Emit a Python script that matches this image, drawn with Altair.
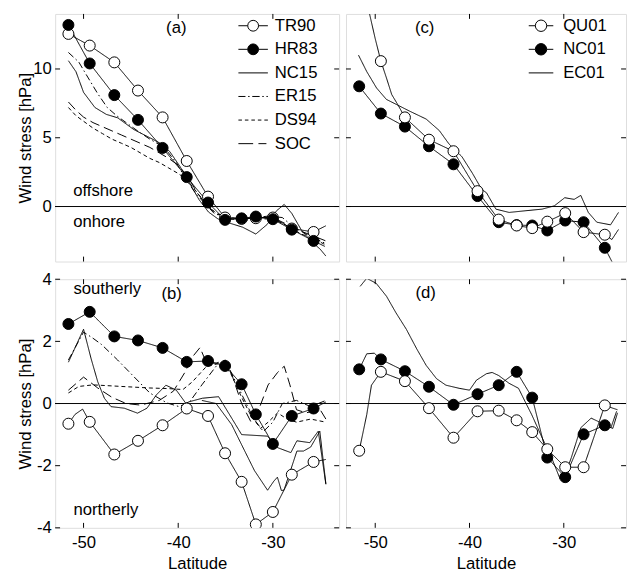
import altair as alt
import pandas as pd

FONT = "Liberation Sans"
FS = 17

# ---------------- data ----------------
X_TICKS = [-50, -40, -30]
Y_TICKS_TOP = [0, 5, 10]
Y_TICKS_BOT = [-4, -2, 0, 2, 4]

LAT_AB = [-51.6, -49.35, -46.75, -44.25, -41.65, -39.1, -36.85, -35.05, -33.3, -31.8, -30.0, -28.0, -25.7]
LAT_CD = [-51.7, -49.4, -46.85, -44.3, -41.7, -39.15, -36.9, -35.0, -33.35, -31.75, -29.85, -27.9, -25.65]

# panel (a)
TR90_A = [12.55, 11.7, 10.48, 8.43, 6.48, 3.31, 0.72, -0.8, -0.9, -0.85, -0.8, -1.6, -1.85]
HR83_A = [13.2, 10.4, 8.1, 6.3, 4.26, 2.14, 0.29, -0.97, -0.86, -0.73, -0.92, -1.68, -2.5]
TR90_A_LINE_LAT = LAT_AB + [-24.4]
TR90_A_LINE = TR90_A + [-1.4]
HR83_A_LINE_LAT = LAT_AB + [-24.5]
HR83_A_LINE = HR83_A + [-2.9]
NC15_A_LAT = [-51.6, -50.8, -50.0, -48.8, -47.6, -46.4, -44.7, -43.0, -41.9, -40.9, -39.8, -38.8, -37.8,
              -36.8, -35.8, -34.6, -33.2, -31.8, -30.6, -29.6, -28.8, -28.0, -27.0, -26.0, -25.0, -24.4]
NC15_A = [10.6, 9.8, 8.3, 7.2, 6.7, 6.45, 5.6, 5.0, 4.6, 4.0, 2.9, 1.7, 0.5,
          -0.4, -0.9, -1.2, -1.5, -2.0, -1.3, -0.3, 0.15, -0.5, -1.7, -2.5, -3.1, -3.6]
ER15_A_LAT = [-51.6, -50.5, -49.9, -48.5, -47.5, -46.5, -45.5, -44.3, -43.0, -41.5, -40.2, -39.2, -38.2,
              -37.3, -36.2, -35.0, -33.5, -32.0, -30.5, -29.0, -27.8, -26.5, -25.3, -24.4]
ER15_A = [11.2, 10.5, 9.8, 8.2, 7.2, 6.6, 6.1, 5.5, 4.9, 4.3, 3.2, 2.0, 1.0,
          0.3, -0.5, -0.8, -0.9, -0.8, -0.7, -0.8, -1.5, -2.0, -2.4, -2.7]
SOC_A_LAT = [-51.6, -50.8, -50.0, -49.0, -48.0, -47.0, -46.0, -45.0, -44.0, -43.0, -42.0, -41.0, -40.0,
             -39.0, -38.0, -37.0, -36.0, -34.5, -33.0, -31.5, -30.0, -28.5, -27.0, -25.5, -24.4]
SOC_A = [7.6, 7.0, 6.5, 6.1, 5.8, 5.5, 5.2, 4.9, 4.6, 4.3, 3.9, 3.5, 3.0,
         2.2, 1.0, 0.1, -0.5, -0.8, -0.9, -0.8, -0.8, -1.3, -1.8, -2.2, -2.5]
DS94_A_LAT = [-51.6, -50.8, -50.0, -49.0, -48.0, -47.0, -46.0, -45.0, -44.0, -43.0, -42.0, -41.0, -40.0,
              -39.0, -38.0, -37.0, -36.0, -34.5, -33.0, -31.5, -30.0, -28.5, -27.0, -25.5, -24.4]
DS94_A = [7.2, 6.6, 6.2, 5.7, 5.3, 4.9, 4.6, 4.3, 3.9, 3.5, 3.2, 2.8, 2.4,
          1.9, 1.0, 0.2, -0.5, -0.9, -1.0, -0.9, -0.9, -1.4, -2.0, -2.4, -2.8]

# panel (b)
TR90_B = [-0.65, -0.59, -1.64, -1.20, -0.70, -0.16, -0.40, -1.60, -2.52, -3.89, -3.49, -2.29, -1.88]
HR83_B = [2.56, 2.95, 2.16, 2.03, 1.79, 1.34, 1.37, 1.21, 0.62, -0.35, -1.30, -0.40, -0.16]
TR90_B_LINE_LAT = [-51.6, -50.9, -50.1, -49.35, -46.75, -44.25, -41.65, -39.1, -36.85, -35.05, -33.3,
                   -31.8, -30.0, -28.0, -25.7, -24.4]
TR90_B_LINE = [-0.65, -0.35, -0.18, -0.59, -1.64, -1.20, -0.70, -0.16, -0.40, -1.60, -2.52,
               -3.89, -3.49, -2.29, -1.88, -1.8]
HR83_B_LINE_LAT = LAT_AB + [-24.4]
HR83_B_LINE = HR83_B + [0.05]
NC15_B_LAT = [-51.6, -50.0, -49.2, -48.5, -47.8, -47.1, -45.7, -44.3, -43.3, -42.3, -41.3, -40.2, -39.2,
              -38.8, -37.45, -35.73, -34.35, -33.3, -30.56, -29.5, -28.1, -27.46, -26.1, -25.2, -24.4]
NC15_B = [1.33, 2.39, 1.44, 0.70, 0.17, -0.10, -0.15, -0.31, -0.15, 0.28, 0.59, 0.43, 0.01,
          0.06, 0.17, 0.22, -0.47, -1.0, -1.05, -1.42, -1.58, -1.2, -1.26, -0.89, -2.6]
EXTRA_B_LAT = [-37.5, -36.0, -34.35, -32.97, -31.94, -30.56, -29.9, -29.52, -29.1, -28.83, -28.14,
               -27.46, -26.77, -26.0, -25.04, -24.4]
EXTRA_B = [0.1, 0.0, -0.68, -1.53, -2.16, -2.79, -2.5, -2.37, -2.8, -2.79, -2.16,
           -1.53, -1.53, -1.4, -0.89, -2.58]
ER15_B_LAT = [-51.6, -50.0, -49.0, -48.1, -46.4, -44.7, -43.0, -41.2, -39.9, -38.8, -37.5, -36.0, -34.8,
              -33.3, -32.0, -31.0, -30.0, -29.0, -27.5, -26.0, -24.4]
ER15_B = [1.4, 2.3, 2.1, 1.9, 1.4, 0.87, 0.34, 0.02, -0.1, 0.05, 0.6, 1.2, 1.25,
          0.3, -0.5, -0.9, -0.6, 0.0, 0.1, -0.1, 0.1]
DS94_B_LAT = [-51.6, -50.5, -49.0, -46.0, -43.0, -41.0, -39.5, -38.5, -37.0, -35.5, -34.5, -33.3, -32.3,
              -31.3, -30.5, -29.5, -28.5, -27.5, -26.0, -24.4]
DS94_B = [0.34, 0.55, 0.6, 0.55, 0.5, 0.48, 0.45, 0.7, 1.2, 1.3, 1.0, 0.2, -0.4,
          -0.8, -0.6, -0.3, -0.5, -0.6, -0.5, -0.6]
SOC_B_LAT = [-51.6, -50.0, -48.5, -47.0, -45.5, -44.0, -42.0, -40.5, -39.3, -38.5, -37.7, -37.0, -36.0,
             -35.0, -34.3, -33.3, -32.3, -31.5, -30.5, -29.5, -28.8, -28.2, -27.5, -26.5, -25.0, -24.4]
SOC_B = [0.43, 0.85, 0.5, 0.2, 0.0, -0.05, 0.1, 0.4, 1.0, 1.5, 1.8, 1.3, 1.3,
         1.4, 0.9, 0.0, -0.6, -0.2, 0.6, 1.0, 1.2, 0.6, -0.2, -0.3, -0.2, -0.5]

# panel (c)
QU01_C_LAT = LAT_CD[1:]
QU01_C = [10.57, 6.48, 4.86, 4.02, 1.12, -0.95, -1.38, -1.57, -1.1, -0.48, -1.86, -2.05]
QU01_C_LINE_LAT = [-51.1, -50.6, -50.0, -49.4, -48.8, -48.25, -47.6, -46.85, -44.3, -41.7, -39.15, -36.9,
                   -35.0, -33.35, -31.75, -29.85, -27.9, -25.65, -24.9, -24.2]
QU01_C_LINE = [17.0, 14.0, 12.2, 10.57, 9.33, 8.14, 7.4, 6.48, 4.86, 4.02, 1.12, -0.95,
               -1.38, -1.57, -1.1, -0.48, -1.86, -2.05, -2.4, -1.67]
NC01_C = [8.74, 6.76, 5.81, 4.38, 3.07, 0.76, -1.14, -1.35, -1.38, -1.74, -1.02, -1.14, -3.0]
NC01_C_LINE_LAT = LAT_CD + [-24.6]
NC01_C_LINE = NC01_C + [-4.4]
EC01_C_LAT = [-51.77, -50.9, -49.86, -48.82, -47.78, -46.4, -44.6, -43.2, -42.2, -40.8, -39.7, -38.7, -38.2,
              -37.2, -35.8, -34.1, -32.3, -31.0, -29.9, -28.9, -28.2, -27.4, -26.5, -25.04, -24.2]
EC01_C = [11.0, 9.81, 8.62, 7.79, 7.43, 6.95, 6.36, 5.52, 4.57, 3.62, 2.43, 1.24, 1.0,
          -0.19, -0.43, -0.31, -0.19, 0.05, 0.64, 0.52, 0.81, -0.43, -1.14, -1.33, -0.43]

# panel (d)
NC01_D = [1.10, 1.42, 1.04, 0.54, -0.04, 0.30, 0.59, 1.02, 0.19, -1.74, -2.37, -0.99, -0.70]
QU01_D = [-1.52, 1.02, 0.72, -0.15, -1.10, -0.25, -0.23, -0.54, -0.92, -1.47, -2.05, -2.05, -0.06]
NC01_D_LINE_LAT = [-51.7, -50.9, -50.1] + LAT_CD[1:] + [-24.8, -24.3]
NC01_D_LINE = [1.10, 1.6, 1.62] + NC01_D[1:] + [-0.8, -0.3]
QU01_D_LINE_LAT = [-51.7, -50.9, -50.4] + LAT_CD[1:] + [-24.8, -24.3]
QU01_D_LINE = [-1.52, -0.36, 0.59] + QU01_D[1:] + [-0.15, -0.2]
EC01_D_LAT = [-51.6, -50.9, -49.9, -48.8, -47.8, -46.7, -45.6, -44.6, -43.5, -42.5, -41.1, -40.0, -39.27,
              -38.2, -37.6, -36.9, -35.8, -34.8, -34.1, -33.4, -32.3, -31.3, -30.4, -29.7, -29.2, -28.2,
              -27.1, -26.4, -25.0, -24.4]
EC01_D = [3.77, 4.03, 3.87, 3.45, 2.92, 2.39, 1.76, 1.23, 0.80, 0.59, 0.49, 0.43, 0.75,
          0.96, 1.0, 0.9, 0.65, 0.49, 0.06, -0.36, -1.1, -1.74, -2.42, -2.16, -1.74, -0.78,
          -0.47, -0.57, -0.78, -0.25]

LEGEND_A = ["TR90", "HR83", "NC15", "ER15", "DS94", "SOC"]
LEGEND_C = ["QU01", "NC01", "EC01"]

# ---------------- styles ----------------
DASH = {"solid": [1, 0], "dashdot": [7, 3, 1.5, 3], "short": [4, 3], "long": [10, 5]}
STYLE_DOMAIN = ["solid", "dashdot", "short", "long"]
STYLE_RANGE = [DASH[s] for s in STYLE_DOMAIN]


def circle_path(r, h):
    k = round(0.5523 * r, 4)
    return (f"M{-h},0L{-r},0M{r},0L{h},0"
            f"M{r},0C{r},{k} {k},{r} 0,{r}C{-k},{r} {-r},{k} {-r},0"
            f"C{-r},{-k} {-k},{-r} 0,{-r}C{k},{-r} {r},{-k} {r},0Z")


def dash_path(h, segs):
    return "".join(f"M{round(-h + 2 * h * a, 3)},0L{round(-h + 2 * h * b, 3)},0" for a, b in segs)


SEG_SOLID = [(0, 1)]
SEG_DASHDOT = [(0, 0.24), (0.33, 0.38), (0.47, 0.72), (0.81, 0.86), (0.95, 1)]
SEG_SHORT = [(0, 0.12), (0.22, 0.34), (0.44, 0.56), (0.66, 0.78), (0.88, 1)]
SEG_LONG = [(0, 0.5), (0.68, 0.95)]


def xenc(field, show, domain):
    if show:
        axis = alt.Axis(values=X_TICKS, labelExpr="'' + datum.value", ticks=False, domain=False,
                        grid=False, labelFont=FONT, labelFontSize=FS, labelColor="black",
                        labelPadding=7, title="Latitude", titleFont=FONT, titleFontSize=FS,
                        titleFontWeight="normal", titleColor="black", titlePadding=5)
    else:
        axis = None
    return alt.X(f"{field}:Q", scale=alt.Scale(domain=domain, nice=False, zero=False), axis=axis)


def yenc(field, show, domain, ticks):
    if show:
        axis = alt.Axis(values=ticks, labelExpr="'' + datum.value", ticks=False, domain=False,
                        grid=False, labelFont=FONT, labelFontSize=FS, labelColor="black",
                        labelPadding=4, minExtent=20, maxExtent=20,
                        title="Wind stress [hPa]", titleFont=FONT, titleFontSize=FS,
                        titleFontWeight="normal", titleColor="black", titlePadding=1)
    else:
        axis = None
    return alt.Y(f"{field}:Q", scale=alt.Scale(domain=domain, nice=False, zero=False), axis=axis)


def panel(W, H, xdom, ydom, yticks, show_x, show_y, lines, markers, texts, legend):
    X = lambda f: xenc(f, show_x, xdom)
    Y = lambda f: yenc(f, show_y, ydom, yticks)
    layers = []
    layers.append(alt.Chart(pd.DataFrame({"z": [0]})).mark_rule(color="black", strokeWidth=1)
                  .encode(y=Y("z")))
    rows = []
    for name, style, lats, vals in lines:
        for la, v in zip(lats, vals):
            rows.append({"series": name, "style": style, "lat": la, "val": v})
    ldf = pd.DataFrame(rows)
    layers.append(alt.Chart(ldf).mark_line(color="black", strokeWidth=1, clip=True).encode(
        x=X("lat"), y=Y("val"),
        detail="series:N",
        strokeDash=alt.StrokeDash("style:N", scale=alt.Scale(domain=STYLE_DOMAIN, range=STYLE_RANGE),
                                  legend=None)))
    for name, fill, lats, vals in markers:
        mdf = pd.DataFrame({"lat": lats, "val": vals})
        layers.append(alt.Chart(mdf).mark_point(shape="circle", filled=True, fill=fill, stroke="black",
                                                strokeWidth=1, size=125, opacity=1, clip=True)
                      .encode(x=X("lat"), y=Y("val")))
    for txt, la, v, align in texts:
        tdf = pd.DataFrame({"lat": [la], "val": [v], "t": [txt]})
        layers.append(alt.Chart(tdf).mark_text(align=align, baseline="middle", font=FONT, fontSize=FS,
                                               color="black")
                      .encode(x=X("lat"), y=Y("val"), text="t:N"))
    tx = pd.DataFrame({"t": X_TICKS})
    ty = pd.DataFrame({"t": yticks})
    layers.append(alt.Chart(tx).mark_rule(color="black", strokeWidth=1)
                  .encode(x=X("t"), y=alt.value(0), y2=alt.value(5)))
    layers.append(alt.Chart(tx).mark_rule(color="black", strokeWidth=1)
                  .encode(x=X("t"), y=alt.value(H - 5), y2=alt.value(H)))
    layers.append(alt.Chart(ty).mark_rule(color="black", strokeWidth=1)
                  .encode(y=Y("t"), x=alt.value(0), x2=alt.value(5)))
    layers.append(alt.Chart(ty).mark_rule(color="black", strokeWidth=1)
                  .encode(y=Y("t"), x=alt.value(W - 5), x2=alt.value(W)))
    if legend is not None:
        names, paths, fills, lx, ly, loff = legend
        gdf = pd.DataFrame({"series": names, "lat": [-80.0] * len(names), "val": [0.0] * len(names)})
        leg = alt.Legend(orient="none", legendX=lx, legendY=ly, title=None, labelFont=FONT,
                         labelFontSize=FS, labelColor="black", symbolSize=400, symbolStrokeWidth=1,
                         labelOffset=loff, rowPadding=5, padding=0, symbolOpacity=1)
        layers.append(alt.Chart(gdf).mark_point(filled=True, size=400, opacity=1, clip=True).encode(
            x=X("lat"), y=Y("val"),
            shape=alt.Shape("series:N", scale=alt.Scale(domain=names, range=paths), legend=leg),
            fill=alt.Fill("series:N", scale=alt.Scale(domain=names, range=fills), legend=leg),
            stroke=alt.Stroke("series:N", scale=alt.Scale(domain=names, range=["black"] * len(names)),
                              legend=leg)))
    return alt.layer(*layers).properties(width=W, height=H)


XL = [-53.0, -23.0]
XR = [-53.1, -23.4]
WL, WR, HT, HB = 289, 285, 252, 253

pa = panel(WL, HT, XL, [-4, 14], Y_TICKS_TOP, False, True,
           [("NC15", "solid", NC15_A_LAT, NC15_A), ("ER15", "dashdot", ER15_A_LAT, ER15_A),
            ("SOC", "long", SOC_A_LAT, SOC_A), ("DS94", "short", DS94_A_LAT, DS94_A),
            ("TR90", "solid", TR90_A_LINE_LAT, TR90_A_LINE), ("HR83", "solid", HR83_A_LINE_LAT, HR83_A_LINE)],
           [("TR90", "white", LAT_AB, TR90_A), ("HR83", "black", LAT_AB, HR83_A)],
           [("(a)", -40.2, 12.96, "center"), ("offshore", -51.1, 1.12, "left"),
            ("onhore", -51.1, -1.14, "left")],
           (LEGEND_A, [circle_path(0.55, 1.5), circle_path(0.55, 1.5), dash_path(1.5, SEG_SOLID),
                       dash_path(1.5, SEG_DASHDOT), dash_path(1.5, SEG_SHORT), dash_path(1.5, SEG_LONG)],
            ["white", "black", "transparent", "transparent", "transparent", "transparent"], 191, 1.5, 11.5))

pb = panel(WL, HB, XL, [-4, 4], Y_TICKS_BOT, True, True,
           [("NC15", "solid", NC15_B_LAT, NC15_B), ("extra", "solid", EXTRA_B_LAT, EXTRA_B),
            ("ER15", "dashdot", ER15_B_LAT, ER15_B), ("SOC", "long", SOC_B_LAT, SOC_B),
            ("DS94", "short", DS94_B_LAT, DS94_B),
            ("TR90", "solid", TR90_B_LINE_LAT, TR90_B_LINE), ("HR83", "solid", HR83_B_LINE_LAT, HR83_B_LINE)],
           [("TR90", "white", LAT_AB, TR90_B), ("HR83", "black", LAT_AB, HR83_B)],
           [("(b)", -40.7, 3.51, "center"), ("southerly", -51.07, 3.67, "left"),
            ("northerly", -51.07, -3.42, "left")],
           None)

pc = panel(WR, HT, XR, [-4, 14], Y_TICKS_TOP, False, False,
           [("EC01", "solid", EC01_C_LAT, EC01_C), ("NC01", "solid", NC01_C_LINE_LAT, NC01_C_LINE),
            ("QU01", "solid", QU01_C_LINE_LAT, QU01_C_LINE)],
           [("NC01", "black", LAT_CD, NC01_C), ("QU01", "white", QU01_C_LAT, QU01_C)],
           [("(c)", -44.76, 13.0, "center")],
           (LEGEND_C, [circle_path(0.58, 1.25), circle_path(0.58, 1.25), dash_path(1.25, SEG_SOLID)],
            ["white", "black", "transparent"], 188, 1.5, 12))

pd_ = panel(WR, HB, XR, [-4, 4], Y_TICKS_BOT, True, False,
            [("EC01", "solid", EC01_D_LAT, EC01_D), ("NC01", "solid", NC01_D_LINE_LAT, NC01_D_LINE),
             ("QU01", "solid", QU01_D_LINE_LAT, QU01_D_LINE)],
            [("NC01", "black", LAT_CD, NC01_D), ("QU01", "white", LAT_CD, QU01_D)],
            [("(d)", -44.65, 3.57, "center")],
            None)

RES = dict(shape="independent", fill="independent", stroke="independent")
top = alt.hconcat(pa, pc, spacing=5).resolve_scale(**RES).resolve_legend(**RES)
bot = alt.hconcat(pb, pd_, spacing=5).resolve_scale(**RES).resolve_legend(**RES)
chart = (alt.vconcat(top, bot, spacing=7).resolve_scale(**RES).resolve_legend(**RES)
         .properties(padding={"left": 8, "top": 0, "right": 0, "bottom": 0})
         .configure_view(stroke="black", strokeWidth=1.6)
         .configure(font=FONT))

chart.save("out.html", embed_options={"renderer": "svg", "actions": False})
